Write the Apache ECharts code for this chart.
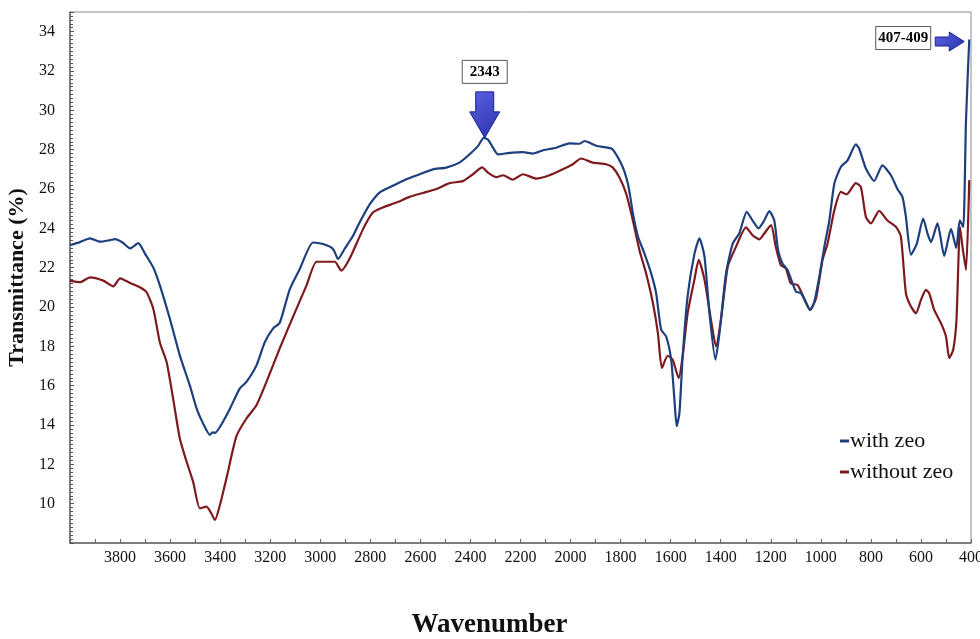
<!DOCTYPE html>
<html>
<head>
<meta charset="utf-8">
<title>FTIR Transmittance</title>
<script src="https://cdn.jsdelivr.net/npm/echarts@6/dist/echarts.min.js"></script>
<style>
  html, body { margin: 0; padding: 0; background: #ffffff; }
  #chart { width: 980px; height: 639px; }
</style>
</head>
<body>
<div id="chart"></div>
<script>
// FTIR spectra: transmittance (%) vs wavenumber (cm-1)
const withZeoWn = [4000,3960,3920,3880,3840,3820,3790,3760,3727,3700,3687,3667,3641,3601,3561,3521,3494,3468,3441,3430,3421,3401,3361,3322,3295,3255,3222,3189,3162,3122,3082,3029,2989,2949,2929,2903,2869,2843,2829,2802,2763,2710,2656,2603,2550,2497,2444,2404,2370,2347,2330,2310,2290,2243,2190,2150,2110,2057,2004,1965,1944,1898,1835,1818,1798,1785,1771,1760,1751,1731,1705,1678,1658,1638,1618,1598,1585,1576,1565,1552,1532,1505,1485,1465,1445,1421,1405,1379,1352,1326,1296,1273,1249,1226,1206,1186,1171,1153,1133,1113,1099,1079,1059,1043,1026,1006,986,966,946,920,893,860,847,820,787,754,720,694,674,660,640,617,591,574,560,534,507,480,459,445,431,420,407];
const withZeoT  = [23.15,23.3,23.49,23.32,23.4,23.45,23.28,22.98,23.25,22.7,22.44,22.0,21.1,19.4,17.53,16.0,14.83,14.07,13.5,13.62,13.6,13.9,14.83,15.85,16.19,17.03,18.2,18.9,19.2,20.9,21.93,23.28,23.2,22.95,22.44,22.95,23.62,24.3,24.63,25.23,25.82,26.16,26.5,26.75,27.0,27.09,27.34,27.76,28.18,28.6,28.52,28.1,27.76,27.84,27.87,27.8,27.97,28.1,28.32,28.3,28.44,28.2,28.05,27.76,27.3,26.9,26.28,25.5,24.76,23.6,22.73,21.71,20.7,18.84,18.5,17.32,15.3,13.94,14.6,17.5,20.58,22.7,23.49,22.57,19.68,17.32,18.67,21.7,23.22,23.74,24.84,24.4,24.0,24.4,24.88,24.4,22.9,22.2,21.88,21.2,20.78,20.7,20.2,19.85,20.27,21.54,23.06,24.4,26.28,27.12,27.46,28.27,28.06,27.04,26.41,27.2,26.7,26.0,25.6,24.58,22.66,23.2,24.5,23.74,23.3,24.25,22.6,23.97,23.0,24.4,24.07,29.5,33.6];

const withoutZeoWn = [4000,3960,3920,3867,3827,3800,3760,3721,3694,3667,3641,3614,3588,3561,3534,3508,3481,3455,3435,3421,3401,3375,3335,3295,3255,3215,3162,3109,3055,3015,2976,2942,2916,2883,2829,2790,2750,2696,2643,2590,2536,2483,2430,2390,2353,2330,2297,2270,2230,2190,2137,2084,2031,1991,1958,1911,1858,1832,1805,1778,1751,1725,1698,1671,1651,1635,1612,1592,1568,1552,1532,1505,1488,1465,1439,1419,1399,1372,1339,1299,1273,1246,1226,1199,1180,1160,1140,1120,1093,1067,1043,1019,993,973,946,920,897,860,840,820,800,767,734,700,680,660,640,620,600,580,567,547,520,500,487,471,458,444,434,420,407];
const withoutZeoT  = [21.34,21.26,21.51,21.34,21.05,21.46,21.22,21.0,20.75,19.9,18.2,17.2,15.34,13.3,12.13,11.11,9.76,9.85,9.5,9.17,9.93,11.28,13.43,14.33,15.0,16.19,17.9,19.5,21.1,22.3,22.3,22.3,21.85,22.45,23.96,24.8,25.06,25.31,25.6,25.8,26.0,26.3,26.4,26.75,27.1,26.83,26.6,26.7,26.48,26.75,26.53,26.7,27.0,27.26,27.55,27.34,27.26,27.1,26.6,25.77,24.4,22.9,21.7,20.2,18.67,16.9,17.52,17.32,16.39,17.5,19.7,21.4,22.4,21.4,19.35,18.0,19.35,22.05,23.06,24.05,23.65,23.44,23.74,24.16,23.06,22.13,21.97,21.2,21.12,20.45,19.85,20.45,22.4,23.23,24.92,25.85,25.73,26.3,26.1,24.58,24.25,24.89,24.4,24.08,23.57,20.7,20.02,19.68,20.36,20.87,20.7,19.85,19.18,18.5,17.4,17.83,19.35,24.07,23.06,21.88,26.45];

const seriesNames = ['with zeo', 'without zeo'];
const seriesColors = ['#1d3f7e', '#7e1a1e'];

// Marked bands: [wavenumber, transmittance at the marked point, label]
const peakNotes = [
  { wn: 2343, t: 28.6, text: '2343' },
  { wn: 407, t: 33.6, text: '407-409' }
];

function pairs(xs, ys) { return xs.map((x, i) => [x, ys[i]]); }

const serif = '"Liberation Serif", "DejaVu Serif", serif';
const chart = echarts.init(document.getElementById('chart'));

chart.setOption({
  animation: false,
  backgroundColor: '#ffffff',
  grid: {
    left: 70, right: 9, top: 12, bottom: 96,
    outerBoundsMode: 'none',
    containLabel: false,
    show: true, borderColor: '#8a8a8a', borderWidth: 1
  },
  legend: {
    orient: 'vertical',
    left: 835, top: 425,
    icon: 'rect', itemWidth: 9, itemHeight: 3, itemGap: 9,
    textStyle: { fontFamily: serif, fontSize: 22, color: '#111', padding: [0, 0, 0, -4] },
    data: seriesNames
  },
  xAxis: {
    type: 'value',
    inverse: true,
    min: 400, max: 4000, interval: 200,
    name: 'Wavenumber',
    nameLocation: 'middle',
    nameGap: 69,
    nameTextStyle: { fontFamily: serif, fontSize: 27, fontWeight: 'bold', color: '#111', padding: [0, 62, 0, 0] },
    axisLine: { show: true, lineStyle: { color: '#666', width: 1.5 } },
    axisTick: { show: true, inside: true, length: 4, lineStyle: { color: '#666' } },
    minorTick: { show: true, splitNumber: 2, length: 4, lineStyle: { color: '#666' } },
    axisLabel: { fontFamily: serif, fontSize: 16, color: '#111', margin: 7, showMaxLabel: false,
                 formatter: v => String(v) },
    splitLine: { show: false }
  },
  yAxis: {
    type: 'value',
    min: 8, max: 35, interval: 2,
    name: 'Transmittance (%)',
    nameLocation: 'middle',
    nameGap: 34,
    nameTextStyle: { fontFamily: serif, fontSize: 22, fontWeight: 'bold', color: '#111' },
    axisLine: { show: true, lineStyle: { color: '#666', width: 1.5 } },
    axisTick: { show: true, inside: true, length: 4, lineStyle: { color: '#555' } },
    minorTick: { show: true, splitNumber: 10, length: 3, lineStyle: { color: '#555' } },
    axisLabel: { fontFamily: serif, fontSize: 16, color: '#111', margin: 15, showMinLabel: false, showMaxLabel: false },
    splitLine: { show: false }
  },
  series: [
    {
      name: seriesNames[0], type: 'line', showSymbol: false, smooth: 0.2,
      data: pairs(withZeoWn, withZeoT),
      lineStyle: { color: seriesColors[0], width: 2.2 }, itemStyle: { color: seriesColors[0] }, z: 3
    },
    {
      name: seriesNames[1], type: 'line', showSymbol: false, smooth: 0.2,
      data: pairs(withoutZeoWn, withoutZeoT),
      lineStyle: { color: seriesColors[1], width: 2.2 }, itemStyle: { color: seriesColors[1] }, z: 2
    }
  ]
});

// Arrow callouts, anchored to the marked data points
const arrowFill = {
  type: 'linear', x: 0, y: 0, x2: 1, y2: 1,
  colorStops: [{ offset: 0, color: '#5a62e0' }, { offset: 1, color: '#2b32b0' }]
};
function labelBox(cx, cy, w, h, text) {
  return [
    { type: 'rect', shape: { x: cx - w / 2, y: cy - h / 2, width: w, height: h },
      style: { fill: '#fff', stroke: '#555', lineWidth: 1 }, z: 10 },
    { type: 'text', x: cx, y: cy,
      style: { text: text, fill: '#000', font: 'bold 15px ' + serif, align: 'center', verticalAlign: 'middle' }, z: 11 }
  ];
}
const p1 = chart.convertToPixel({ gridIndex: 0 }, [peakNotes[0].wn, peakNotes[0].t]);
const p2 = chart.convertToPixel({ gridIndex: 0 }, [peakNotes[1].wn, peakNotes[1].t]);
const tip2 = [p2[0] - 5, p2[1] + 2];

const graphics = [
  { type: 'polygon', z: 10,
    shape: { points: [[-9,-46],[9,-46],[9,-26],[15,-26],[0,0],[-15,-26],[-9,-26]].map(q => [p1[0] + q[0], p1[1] + q[1]]) },
    style: { fill: arrowFill, stroke: '#1c2290', lineWidth: 1 } },
  ...labelBox(p1[0], p1[1] - 66, 45, 23, peakNotes[0].text),
  { type: 'polygon', z: 10,
    shape: { points: [[-29,-4.5],[-15,-4.5],[-15,-9.5],[0,0],[-15,9.5],[-15,4.5],[-29,4.5]].map(q => [tip2[0] + q[0], tip2[1] + q[1]]) },
    style: { fill: arrowFill, stroke: '#1c2290', lineWidth: 1 } },
  ...labelBox(tip2[0] - 61, tip2[1] - 3.5, 55, 23, peakNotes[1].text)
];
chart.setOption({ graphic: graphics });
</script>
</body>
</html>
